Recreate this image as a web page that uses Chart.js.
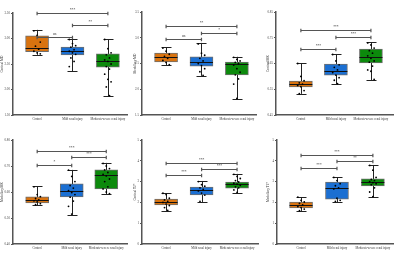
<!DOCTYPE html>
<html><head><meta charset="utf-8">
<script src="https://cdn.jsdelivr.net/npm/chart.js@4"></script>
<style>
html,body{margin:0;padding:0;background:#fff;width:400px;height:262px;overflow:hidden}
.p{position:absolute}
canvas{display:block}
</style></head><body>
<div class="p" style="left:0;top:0"><canvas id="c0" width="133" height="131"></canvas></div>
<div class="p" style="left:133px;top:0"><canvas id="c1" width="133" height="131"></canvas></div>
<div class="p" style="left:266px;top:0"><canvas id="c2" width="134" height="131"></canvas></div>
<div class="p" style="left:0;top:131px"><canvas id="c3" width="133" height="131"></canvas></div>
<div class="p" style="left:133px;top:131px"><canvas id="c4" width="133" height="131"></canvas></div>
<div class="p" style="left:266px;top:131px"><canvas id="c5" width="134" height="131"></canvas></div>
<script>
// ---- data ----
const categories = ['Control', 'Mild renal injury', 'Moderate-severe renal injury'];
const groupColors = ['#d9730f', '#1b6fd2', '#0c8a0c'];
const yTitles = ['Cortical MD', 'Medullary MD', 'Cortical MK', 'Medullary MK', 'Cortical T2*', 'Medullary T2*'];
const yRanges = [[1.5, 3.5, 0.5], [1.5, 3.5, 0.5], [0.45, 0.85, 0.1], [0.40, 0.80, 0.1], [0, 5, 1], [0, 5, 1]];
const yDecimals = [2, 1, 2, 2, 0, 0];

// box stats per panel: [min, q1, median, q3, max] for Control, Mild, Moderate-severe
const box1 = [[2.68, 2.74, 2.81, 3.05, 3.17], [2.36, 2.68, 2.75, 2.83, 2.99], [1.87, 2.44, 2.56, 2.70, 2.99]];
const box2 = [[2.47, 2.53, 2.63, 2.70, 2.82], [2.26, 2.45, 2.53, 2.63, 2.90], [1.81, 2.28, 2.49, 2.53, 2.63]];
const box3 = [[0.532, 0.559, 0.570, 0.582, 0.652], [0.570, 0.605, 0.621, 0.648, 0.687], [0.586, 0.652, 0.675, 0.706, 0.733]];
const box4 = [[0.550, 0.558, 0.569, 0.581, 0.623], [0.512, 0.581, 0.604, 0.631, 0.685], [0.592, 0.612, 0.665, 0.685, 0.712]];
const box5 = [[1.59, 1.88, 2.02, 2.16, 2.45], [2.02, 2.36, 2.60, 2.74, 3.03], [2.45, 2.69, 2.88, 2.98, 3.37]];
const box6 = [[1.59, 1.73, 1.88, 2.02, 2.26], [2.02, 2.16, 2.69, 2.98, 3.22], [2.26, 2.79, 2.98, 3.13, 3.80]];

// individual observations per panel (Control, Mild, Moderate-severe)
const pts1 = [[3.15, 3.06, 2.93, 2.85, 2.79, 2.75, 2.72, 2.70],
              [2.98, 2.90, 2.86, 2.83, 2.78, 2.75, 2.72, 2.69, 2.62, 2.55, 2.45],
              [2.98, 2.80, 2.72, 2.68, 2.62, 2.58, 2.55, 2.50, 2.45, 2.40, 2.30, 2.20, 2.15, 2.05, 1.88]];
const pts2 = [[2.80, 2.74, 2.68, 2.64, 2.60, 2.56, 2.52, 2.48],
              [2.88, 2.70, 2.66, 2.60, 2.55, 2.50, 2.46, 2.40, 2.34, 2.27],
              [2.62, 2.58, 2.55, 2.52, 2.50, 2.47, 2.40, 2.33, 2.28, 2.20, 2.10, 1.82]];
const pts3 = [[0.650, 0.600, 0.583, 0.575, 0.570, 0.565, 0.560, 0.545, 0.533],
              [0.685, 0.660, 0.645, 0.635, 0.625, 0.615, 0.605, 0.595, 0.585, 0.572],
              [0.730, 0.722, 0.710, 0.700, 0.690, 0.680, 0.670, 0.660, 0.655, 0.640, 0.625, 0.620, 0.588]];
const pts4 = [[0.620, 0.590, 0.582, 0.575, 0.570, 0.566, 0.562, 0.555, 0.551],
              [0.684, 0.660, 0.640, 0.625, 0.615, 0.605, 0.598, 0.590, 0.580, 0.565, 0.545, 0.515],
              [0.710, 0.700, 0.690, 0.685, 0.675, 0.668, 0.662, 0.650, 0.640, 0.620, 0.612, 0.600, 0.594]];
const pts5 = [[2.44, 2.38, 2.20, 2.12, 2.05, 2.00, 1.92, 1.85, 1.75, 1.62],
              [3.00, 2.85, 2.78, 2.70, 2.62, 2.55, 2.45, 2.35, 2.05],
              [3.35, 3.25, 3.15, 3.05, 2.98, 2.92, 2.88, 2.82, 2.75, 2.70, 2.60, 2.48]];
const pts6 = [[2.25, 2.10, 2.02, 1.95, 1.88, 1.80, 1.75, 1.68, 1.60],
              [3.20, 3.05, 2.90, 2.80, 2.70, 2.65, 2.20, 2.10, 2.05],
              [3.78, 3.55, 3.20, 3.10, 3.05, 3.00, 2.95, 2.90, 2.85, 2.70, 2.50, 2.28]];

// significance brackets: [fromGroup, toGroup, y value, label]
const sig1 = [[1, 3, 3.50, '***'], [2, 3, 3.27, '**'], [1, 2, 3.03, 'ns']];
const sig2 = [[1, 3, 3.23, '**'], [2, 3, 3.09, '*'], [1, 2, 2.97, 'ns']];
const sig3 = [[1, 3, 0.780, '***'], [2, 3, 0.753, '***'], [1, 2, 0.706, '***']];
const sig4 = [[1, 3, 0.758, '***'], [2, 3, 0.735, '***'], [1, 2, 0.704, '*']];
const sig5 = [[1, 3, 3.89, '***'], [2, 3, 3.61, '***'], [1, 2, 3.32, '***']];
const sig6 = [[1, 3, 4.28, '***'], [2, 3, 3.99, '**'], [1, 2, 3.65, '***']];

const boxes = [box1, box2, box3, box4, box5, box6];
const points = [pts1, pts2, pts3, pts4, pts5, pts6];
const sigs = [sig1, sig2, sig3, sig4, sig5, sig6];

// ---- layout (pixels inside each panel) ----
const layouts = [
  {ax: 13, top: 13, bot: 115, right: 127, xr: [0.32, 3.54]},
  {ax: 9,  top: 12, bot: 115, right: 123, xr: [0.32, 3.54]},
  {ax: 10, top: 12, bot: 115, right: 127, xr: [0.29, 3.63]},
  {ax: 13, top: 9,  bot: 113, right: 127, xr: [0.30, 3.60]},
  {ax: 9,  top: 9,  bot: 113, right: 125, xr: [0.32, 3.59]},
  {ax: 11, top: 9,  bot: 113, right: 127, xr: [0.33, 3.56]}
];

const FONT = 'Liberation Serif';

const boxPlugin = {
  id: 'boxExtras',
  beforeDatasetsDraw(chart) {
    const st = chart.options.plugins.boxExtras;
    const x = chart.scales.x, y = chart.scales.y, ctx = chart.ctx;
    ctx.save();
    ctx.strokeStyle = '#222';
    ctx.lineWidth = 1;
    st.box.forEach((b, i) => {
      const cx = Math.round(x.getPixelForValue(i + 1)) + 0.5;
      const y0 = y.getPixelForValue(b[0]), y4 = y.getPixelForValue(b[4]);
      ctx.beginPath();
      ctx.moveTo(cx, y0); ctx.lineTo(cx, y4);
      ctx.moveTo(cx - 5, Math.round(y0) + 0.5); ctx.lineTo(cx + 5, Math.round(y0) + 0.5);
      ctx.moveTo(cx - 5, Math.round(y4) + 0.5); ctx.lineTo(cx + 5, Math.round(y4) + 0.5);
      ctx.stroke();
    });
    ctx.restore();
  },
  afterDatasetsDraw(chart) {
    const st = chart.options.plugins.boxExtras;
    const x = chart.scales.x, y = chart.scales.y, ctx = chart.ctx;
    ctx.save();
    ctx.strokeStyle = '#111';
    ctx.lineWidth = 1;
    st.box.forEach((b, i) => {
      const cx = x.getPixelForValue(i + 1);
      const ym = Math.round(y.getPixelForValue(b[2])) + 0.5;
      ctx.beginPath(); ctx.moveTo(cx - 11.5, ym); ctx.lineTo(cx + 11.5, ym); ctx.stroke();
    });
    ctx.fillStyle = '#000';
    st.pts.forEach((arr, i) => {
      const cx = x.getPixelForValue(i + 1);
      arr.forEach((v, k) => {
        const off = (((k * 7) % 5) - 2) * 1.6;
        ctx.beginPath();
        ctx.arc(cx + off, y.getPixelForValue(v), 0.9, 0, Math.PI * 2);
        ctx.fill();
      });
    });
    ctx.strokeStyle = '#555';
    ctx.lineWidth = 1.2;
    ctx.fillStyle = '#222';
    ctx.font = '3.6px "' + FONT + '"';
    ctx.textAlign = 'center';
    ctx.textBaseline = 'bottom';
    st.sig.forEach(s => {
      const xa = x.getPixelForValue(s[0]), xb = x.getPixelForValue(s[1]);
      const yy = Math.round(y.getPixelForValue(s[2])) + 0.5;
      ctx.beginPath();
      ctx.moveTo(xa, yy); ctx.lineTo(xb, yy);
      ctx.moveTo(xa, yy - 1.8); ctx.lineTo(xa, yy + 1.8);
      ctx.moveTo(xb, yy - 1.8); ctx.lineTo(xb, yy + 1.8);
      ctx.stroke();
      ctx.fillText(s[3], (xa + xb) / 2, yy - 1.2);
    });
    ctx.restore();
  }
};

function makePanel(idx) {
  const cv = document.getElementById('c' + idx);
  const W = cv.width, H = cv.height;
  const L = layouts[idx];
  const box = boxes[idx];
  const yr = yRanges[idx];
  new Chart(cv, {
    type: 'bar',
    data: {
      datasets: [{
        data: box.map((b, i) => ({x: i + 1, y: [b[1], b[3]]})),
        backgroundColor: groupColors,
        borderColor: '#6e6e6e',
        borderWidth: 1,
        borderSkipped: false,
        barThickness: 23
      }]
    },
    options: {
      responsive: false,
      animation: false,
      devicePixelRatio: 1,
      layout: {padding: {left: 0, top: L.top, right: W - L.right, bottom: 0}},
      plugins: {
        legend: {display: false},
        tooltip: {enabled: false},
        boxExtras: {box: box, pts: points[idx], sig: sigs[idx]}
      },
      scales: {
        x: {
          type: 'linear',
          offset: false,
          min: L.xr[0], max: L.xr[1],
          afterBuildTicks: s => { s.ticks = [{value: 1}, {value: 2}, {value: 3}]; },
          afterFit: s => { s.height = H - L.bot; s.paddingLeft = 0; s.paddingRight = 0; },
          grid: {display: true, offset: false, drawOnChartArea: false, drawTicks: false},
          border: {color: '#555', width: 1.5},
          ticks: {
            autoSkip: false, maxRotation: 0, padding: 2,
            font: {family: FONT, size: 3}, color: '#333',
            callback: v => categories[v - 1]
          }
        },
        y: {
          min: yr[0], max: yr[1],
          afterBuildTicks: s => {
            const t = [];
            for (let v = yr[0]; v <= yr[1] + 1e-9; v += yr[2]) t.push({value: +v.toFixed(4)});
            s.ticks = t;
          },
          afterFit: s => { s.width = L.ax; },
          grid: {display: true, drawOnChartArea: false, tickLength: 2, color: '#555'},
          border: {color: '#555', width: 1.5},
          title: {display: true, text: yTitles[idx], padding: 0, font: {family: FONT, size: 3.3}, color: '#444'},
          ticks: {
            padding: 1, font: {family: FONT, size: 3.2}, color: '#444',
            callback: v => (+v).toFixed(yDecimals[idx])
          }
        }
      }
    },
    plugins: [boxPlugin]
  });
}
for (let i = 0; i < 6; i++) makePanel(i);
</script>
</body></html>
